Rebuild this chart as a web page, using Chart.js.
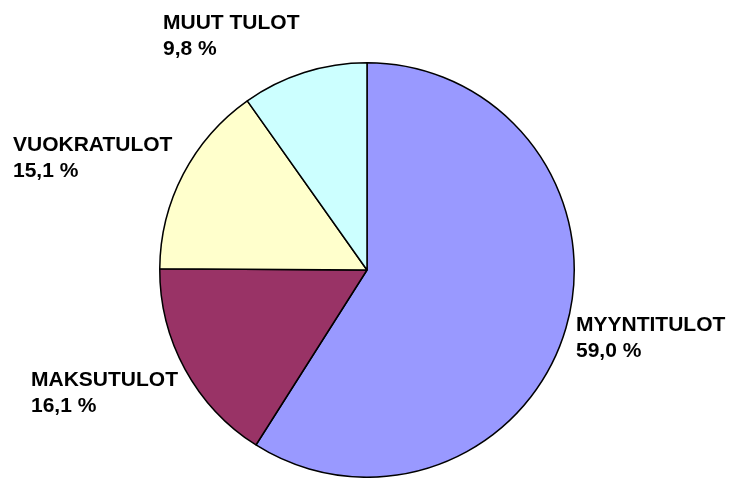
<!DOCTYPE html>
<html>
<head>
<meta charset="utf-8">
<script src="https://cdn.jsdelivr.net/npm/chart.js@4/dist/chart.umd.min.js"></script>
<style>
  html, body { margin: 0; padding: 0; background: #fff; }
  #wrap { width: 729px; height: 478px; position: relative; }
</style>
</head>
<body>
<div id="wrap"><canvas id="c" width="729" height="478"></canvas></div>
<script>
const categories = ["MYYNTITULOT", "MAKSUTULOT", "VUOKRATULOT", "MUUT TULOT"];
const shares = [59.0, 16.1, 15.1, 9.8];
const colors = ["#9999FF", "#993366", "#FFFFCC", "#CCFFFF"];

// label anchor positions (left x, first-line baseline y)
const labelPos = [[576, 331], [31, 386], [13, 151], [163, 29]];

function fmt(v) { return v.toFixed(1).replace('.', ',') + ' %'; }

const labelPlugin = {
  id: 'sliceLabels',
  afterDraw(chart) {
    const ctx = chart.ctx;
    ctx.save();
    ctx.fillStyle = '#000';
    ctx.font = 'bold 21px "Liberation Sans", Arial, sans-serif';
    ctx.textAlign = 'left';
    ctx.textBaseline = 'alphabetic';
    categories.forEach((c, i) => {
      const [x, y] = labelPos[i];
      ctx.fillText(c, x, y);
      ctx.fillText(fmt(shares[i]), x, y + 26);
    });
    ctx.restore();
  }
};

new Chart(document.getElementById('c'), {
  type: 'pie',
  data: {
    labels: categories,
    datasets: [{
      data: shares,
      backgroundColor: colors,
      borderColor: '#000',
      borderWidth: 1.5
    }]
  },
  options: {
    responsive: false,
    animation: false,
    layout: { padding: { left: 159, right: 154, top: 62, bottom: 0 } },
    plugins: { legend: { display: false }, tooltip: { enabled: false } }
  },
  plugins: [labelPlugin]
});
</script>
</body>
</html>
